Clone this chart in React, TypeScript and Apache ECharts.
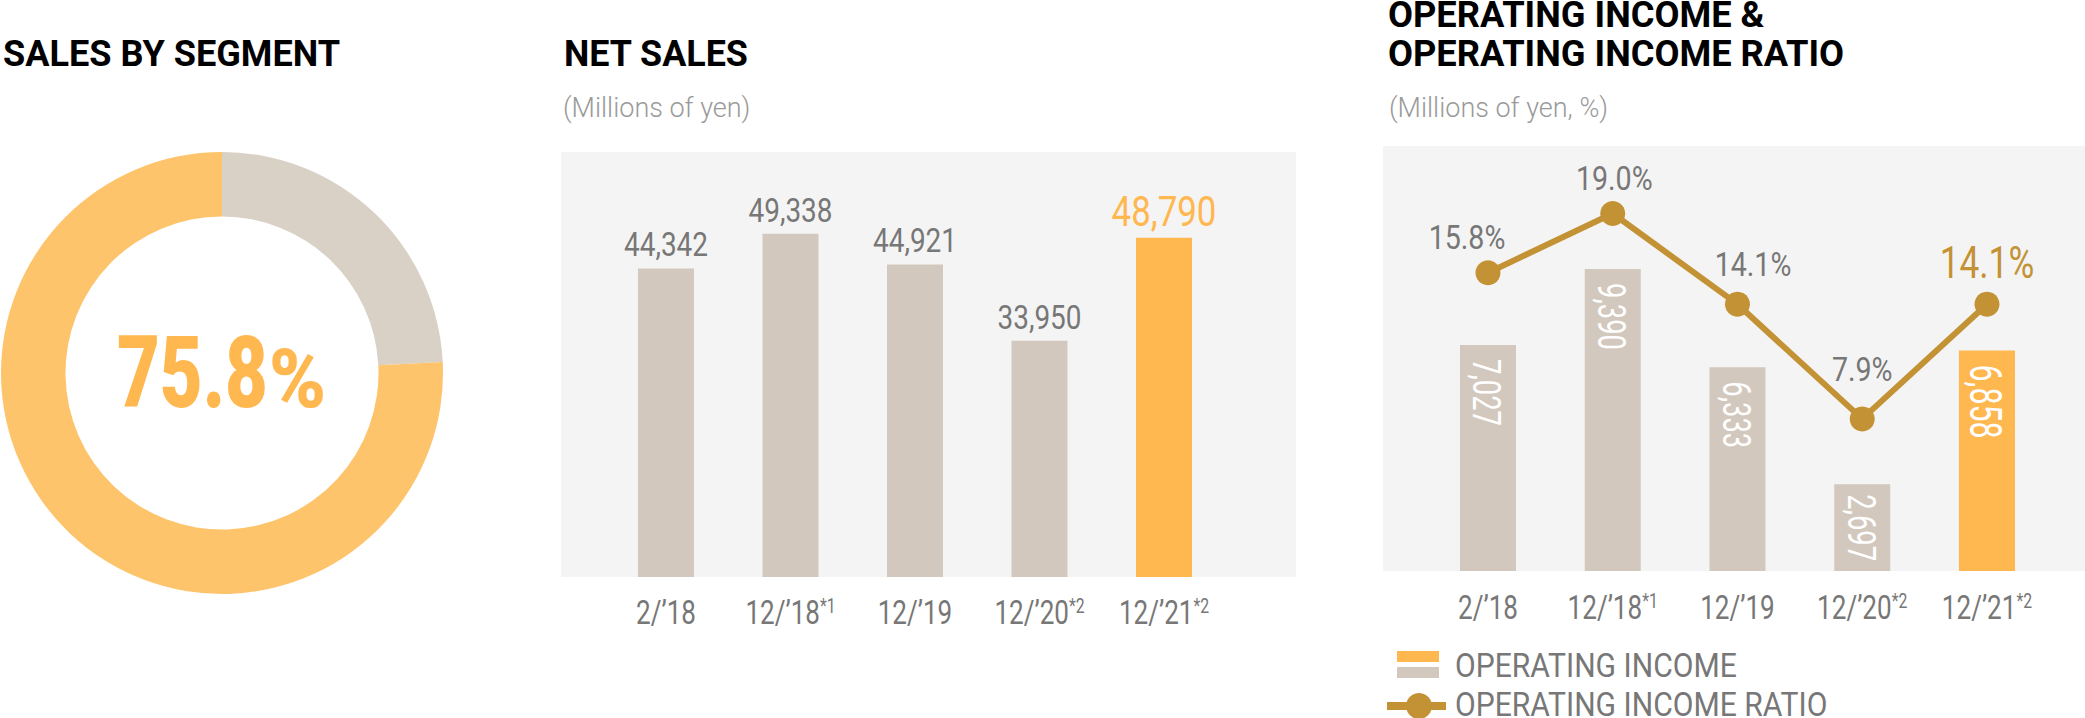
import React, { useEffect, useRef } from "react";
import * as echarts from "echarts";

// ---------- data ----------
const categories = ["2/’18", "12/’18*1", "12/’19", "12/’20*2", "12/’21*2"];
const netSales = [44342, 49338, 44921, 33950, 48790];
const operatingIncome = [7027, 9390, 6333, 2697, 6858];
const operatingIncomeRatio = [15.8, 19.0, 14.1, 7.9, 14.1];
const segmentNames = ["This segment", "Other segments"];
const segmentShare = [75.8, 24.2];
const highlightIndex = 4;

// ---------- styles ----------
const ROBOTO = "Roboto,'Noto Sans',sans-serif";
const GRAY_TEXT = "#777777";
const SUB_TEXT = "#9a9a9a";
const BAR_GRAY = "#D3C8BD";
const BAR_ORANGE = "#FFB74F";
const LINE_GOLD = "#C39234";
const PANEL_BG = "#F4F4F4";
const DONUT_ORANGE = "#FEC46C";
const DONUT_GRAY = "#D9D0C6";
// label placement (pixels relative to the data point)
const ratioLabelShift = [[-21, -34.5], [1.5, -34.5], [15.5, -39], [0, -49.5], [0, -41]];

const fmt = (v: number) => v.toLocaleString("en-US");

function txt(text: string, x: number, y: number, o: any) {
  const style: any = {
    text,
    x: 0,
    y: 0,
    fontFamily: o.fontFamily ?? ROBOTO,
    fontSize: o.fontSize,
    fontWeight: o.fontWeight ?? "normal",
    fill: o.fill,
    align: o.align ?? "left",
    textAlign: o.align ?? "left",
    verticalAlign: "middle",
    textVerticalAlign: "middle",
  };
  if (o.lineHeight) style.lineHeight = o.lineHeight;
  return {
    type: "text",
    x,
    y,
    scaleX: o.scaleX ?? 1,
    rotation: o.rotation ?? 0,
    style,
  };
}

function categoryLabel(i: number, x: number, y: number) {
  const [b, n] = categories[i].split("*");
  return {
    type: "text",
    x,
    y,
    scaleX: 0.79,
    style: {
      text: n ? `{a|${b}}{s|*${n}}` : `{a|${b}}`,
      x: 0,
      y: 0,
      align: "center",
      verticalAlign: "middle",
      fill: GRAY_TEXT,
      fontFamily: ROBOTO,
      fontSize: 33,
      rich: {
        a: { fontFamily: ROBOTO, fontSize: 33, fill: GRAY_TEXT, color: GRAY_TEXT },
        s: { fontFamily: ROBOTO, fontSize: 20, fill: GRAY_TEXT, color: GRAY_TEXT, verticalAlign: "top", lineHeight: 26 },
      },
    },
  };
}

export default function App() {
  const ref = useRef<HTMLDivElement>(null);
  useEffect(() => {
    if (!ref.current) return;
    const chart = echarts.init(ref.current, null, { renderer: "svg" });
    const hiddenCat = {
      type: "category",
      data: categories,
      axisLine: { show: false },
      axisTick: { show: false },
      axisLabel: { show: false },
    };
    const option: any = {
      animation: false,
      backgroundColor: "#ffffff",
      grid: [
        { left: 603.75, top: 152, width: 622.5, height: 425 },
        { left: 1425.6, top: 146, width: 623.75, height: 425 },
      ],
      xAxis: [
        { ...hiddenCat, gridIndex: 0 },
        { ...hiddenCat, gridIndex: 1 },
      ],
      yAxis: [
        { type: "value", gridIndex: 0, min: 0, max: 61100, show: false, splitLine: { show: false } },
        { type: "value", gridIndex: 1, min: 0, max: 13215, show: false, splitLine: { show: false } },
        { type: "value", gridIndex: 1, min: -0.32, max: 22.65, show: false, splitLine: { show: false } },
      ],
      graphic: [
        { type: "rect", z: -10, shape: { x: 561, y: 152, width: 735, height: 425 }, style: { fill: PANEL_BG } },
        { type: "rect", z: -10, shape: { x: 1383, y: 146, width: 702, height: 425 }, style: { fill: PANEL_BG } },
        txt("SALES BY SEGMENT", 3, 53.5, { fontSize: 37, fontWeight: "bold", fill: "#000", scaleX: 0.975 }),
        txt("NET SALES", 564, 53, { fontSize: 37, fontWeight: "bold", fill: "#000", scaleX: 0.97 }),
        txt("(Millions of yen)", 563, 107.5, { fontSize: 27, fontWeight: 300, fill: SUB_TEXT }),
        txt("OPERATING INCOME &", 1388, 14, { fontSize: 37, fontWeight: "bold", fill: "#000", scaleX: 0.98, lineHeight: 27 }),
        txt("OPERATING INCOME RATIO", 1388, 53, { fontSize: 37, fontWeight: "bold", fill: "#000", scaleX: 0.98 }),
        txt("(Millions of yen, %)", 1389, 107.5, { fontSize: 27, fontWeight: 300, fill: SUB_TEXT }),
        txt(segmentShare[0].toFixed(1), 268, 372.5, {
          fontSize: 100, fontWeight: 900, fill: BAR_ORANGE, align: "right", scaleX: 0.74,
        }),
        txt("%", 269, 379, { fontSize: 81, fontWeight: 900, fill: BAR_ORANGE, scaleX: 0.95 }),
        // legend
        { type: "rect", shape: { x: 1397, y: 651, width: 42, height: 11 }, style: { fill: BAR_ORANGE } },
        { type: "rect", shape: { x: 1397, y: 667, width: 42, height: 11 }, style: { fill: BAR_GRAY } },
        { type: "line", shape: { x1: 1387, y1: 706, x2: 1446, y2: 706 }, style: { stroke: LINE_GOLD, lineWidth: 8 } },
        { type: "circle", shape: { cx: 1419, cy: 706, r: 13 }, style: { fill: LINE_GOLD } },
        txt("OPERATING INCOME", 1455, 665, { fontSize: 34, fill: GRAY_TEXT, scaleX: 0.885 }),
        txt("OPERATING INCOME RATIO", 1455, 704.5, { fontSize: 34, fill: GRAY_TEXT, scaleX: 0.885, lineHeight: 26 }),
      ],
      series: [
        {
          type: "pie",
          center: [222, 373],
          radius: [156.5, 221],
          startAngle: 90,
          clockwise: true,
          silent: true,
          label: { show: false },
          labelLine: { show: false },
          data: [
            { name: segmentNames[1], value: segmentShare[1], itemStyle: { color: DONUT_GRAY } },
            { name: segmentNames[0], value: segmentShare[0], itemStyle: { color: DONUT_ORANGE } },
          ],
        },
        {
          type: "bar",
          xAxisIndex: 0,
          yAxisIndex: 0,
          barWidth: 56,
          silent: true,
          data: netSales.map((v, i) => ({
            value: v,
            itemStyle: { color: i === highlightIndex ? BAR_ORANGE : BAR_GRAY },
          })),
        },
        {
          // value labels + category labels of the net sales panel
          type: "custom",
          xAxisIndex: 0,
          yAxisIndex: 0,
          silent: true,
          clip: false,
          z: 10,
          data: netSales.map((v, i) => [i, v]),
          renderItem: (params: any, api: any) => {
            const i = params.dataIndex;
            const top = api.coord([api.value(0), api.value(1)]);
            const base = api.coord([api.value(0), 0]);
            const hi = i === highlightIndex;
            return {
              type: "group",
              children: [
                txt(fmt(api.value(1)), top[0], top[1] - (hi ? 26 : 23.5), {
                  fontSize: hi ? 42 : 32.5, fill: hi ? BAR_ORANGE : GRAY_TEXT, align: "center", scaleX: hi ? 0.83 : 0.86,
                }),
                categoryLabel(i, base[0], base[1] + 35),
              ],
            };
          },
        },
        {
          type: "bar",
          xAxisIndex: 1,
          yAxisIndex: 1,
          barWidth: 56,
          silent: true,
          data: operatingIncome.map((v, i) => ({
            value: v,
            itemStyle: { color: i === highlightIndex ? BAR_ORANGE : BAR_GRAY },
          })),
        },
        {
          // rotated value labels + category labels of the operating income panel
          type: "custom",
          xAxisIndex: 1,
          yAxisIndex: 1,
          silent: true,
          clip: false,
          z: 10,
          data: operatingIncome.map((v, i) => [i, v]),
          renderItem: (params: any, api: any) => {
            const i = params.dataIndex;
            const top = api.coord([api.value(0), api.value(1)]);
            const base = api.coord([api.value(0), 0]);
            const hi = i === highlightIndex;
            const small = base[1] - top[1] < 110;
            const label = small
              ? txt(fmt(api.value(1)), top[0] - 1.5, (top[1] + base[1]) / 2, {
                  fontSize: 38, fill: "#ffffff", align: "center", scaleX: 0.72, rotation: -Math.PI / 2,
                })
              : txt(fmt(api.value(1)), top[0] - 1.5, top[1] + 14, {
                  fontSize: hi ? 44 : 38, fill: "#ffffff", align: "left", scaleX: hi ? 0.69 : 0.72, rotation: -Math.PI / 2,
                });
            return {
              type: "group",
              children: [label, categoryLabel(i, base[0], base[1] + 36)],
            };
          },
        },
        {
          type: "line",
          xAxisIndex: 1,
          yAxisIndex: 2,
          z: 5,
          silent: true,
          symbol: "circle",
          symbolSize: 25,
          lineStyle: { color: LINE_GOLD, width: 6 },
          itemStyle: { color: LINE_GOLD },
          data: operatingIncomeRatio,
        },
        {
          // ratio labels
          type: "custom",
          xAxisIndex: 1,
          yAxisIndex: 2,
          silent: true,
          clip: false,
          z: 11,
          data: operatingIncomeRatio.map((v, i) => [i, v]),
          renderItem: (params: any, api: any) => {
            const i = params.dataIndex;
            const p = api.coord([api.value(0), api.value(1)]);
            const hi = i === highlightIndex;
            const [dx, dy] = ratioLabelShift[i];
            return txt(Number(api.value(1)).toFixed(1) + "%", p[0] + dx, p[1] + dy, {
              fontSize: hi ? 44 : 32.5, fill: hi ? LINE_GOLD : GRAY_TEXT, align: "center", scaleX: hi ? 0.8 : 0.88,
            });
          },
        },
      ],
    };
    chart.setOption(option);
    return () => chart.dispose();
  }, []);
  return <div ref={ref} style={{ position: "fixed", left: 0, top: 0, width: 2085, height: 718 }} />;
}
